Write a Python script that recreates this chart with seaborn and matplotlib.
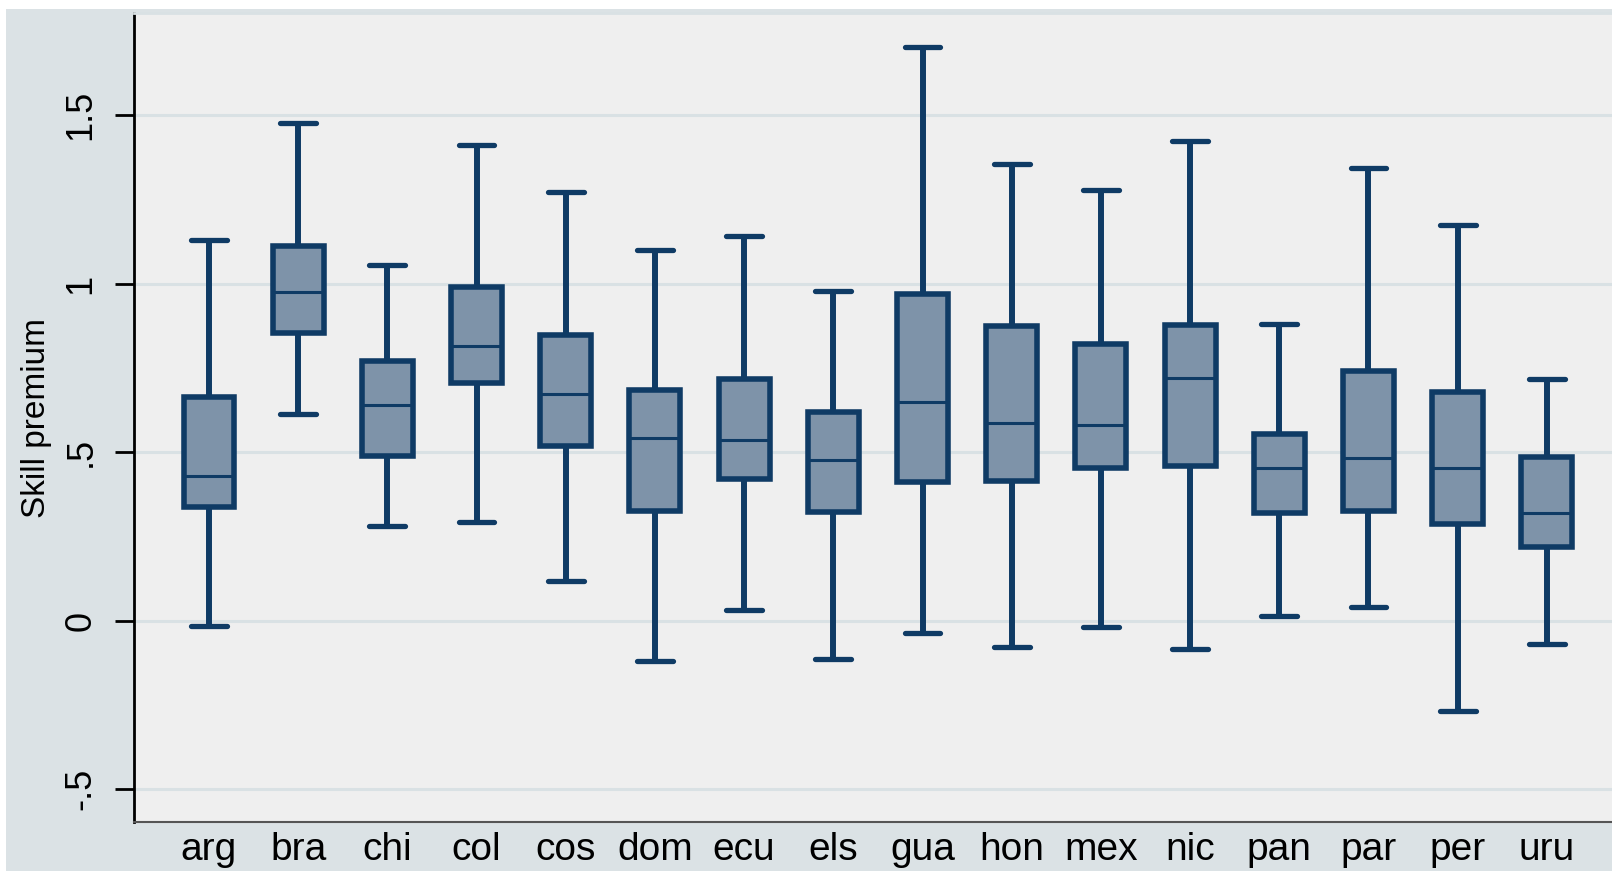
import numpy as np
import pandas as pd
import matplotlib
matplotlib.use("Agg")
import matplotlib.pyplot as plt
from matplotlib.patches import Rectangle
import seaborn as sns

countries = ["arg", "bra", "chi", "col", "cos", "dom", "ecu", "els",
             "gua", "hon", "mex", "nic", "pan", "par", "per", "uru"]
whisker_low = [-0.015, 0.612, 0.280, 0.292, 0.119, -0.119, 0.033, -0.113,
               -0.037, -0.079, -0.018, -0.085, 0.015, 0.040, -0.268, -0.070]
q1 = [0.338, 0.855, 0.490, 0.706, 0.518, 0.326, 0.420, 0.323,
      0.411, 0.414, 0.454, 0.460, 0.320, 0.326, 0.286, 0.219]
median = [0.429, 0.974, 0.639, 0.816, 0.673, 0.542, 0.536, 0.478,
          0.648, 0.588, 0.581, 0.721, 0.454, 0.484, 0.454, 0.320]
q3 = [0.664, 1.111, 0.770, 0.989, 0.849, 0.685, 0.718, 0.618,
      0.968, 0.874, 0.822, 0.877, 0.554, 0.740, 0.679, 0.487]
whisker_high = [1.129, 1.476, 1.056, 1.412, 1.272, 1.099, 1.142, 0.977,
                1.702, 1.355, 1.279, 1.422, 0.880, 1.342, 1.175, 0.718]

ytick_vals = [-0.5, 0, 0.5, 1, 1.5]
ytick_labels = ["-.5", "0", ".5", "1", "1.5"]

# five points per country reproduce exactly the five box statistics
rows = []
for c, lo, a, m, b, hi in zip(countries, whisker_low, q1, median, q3, whisker_high):
    for v in (lo, a, m, b, hi):
        rows.append((c, v))
df = pd.DataFrame(rows, columns=["country", "premium"])

OUTER = "#dbe2e5"
PLOTBG = "#efefef"
GRID = "#d9e1e4"
EDGE = "#0f3b65"
FILL = "#7e93a9"

plt.rcParams["font.family"] = ["Liberation Sans", "DejaVu Sans"]

W, H = 1612, 871
fig = plt.figure(figsize=(W / 100, H / 100), dpi=100, facecolor="white")
fig.patches.append(Rectangle((6 / W, 0), 1, (H - 9) / H, transform=fig.transFigure,
                             facecolor=OUTER, edgecolor="none", zorder=-10))

ax = fig.add_axes([134 / W, (H - 822) / H, 1 - 134 / W, (822 - 13) / H])
ax.set_facecolor(PLOTBG)

sns.boxplot(data=df, x="country", y="premium", order=countries, ax=ax,
            whis=np.inf, width=0.57, color=FILL, saturation=1,
            linecolor=EDGE, linewidth=4.0, fliersize=0, capwidths=0.40,
            medianprops=dict(linewidth=2.2, color=EDGE),
            whiskerprops=dict(linewidth=4.3, color=EDGE),
            capprops=dict(linewidth=3.8, color=EDGE, solid_capstyle="round"))

ax.set_xlim(-0.84, 15.73)
ax.set_ylim(-0.597, 1.803)
ax.set_yticks(ytick_vals)
ax.set_yticklabels(ytick_labels, rotation=90, va="center", fontsize=26)
ax.yaxis.grid(True, color=GRID, linewidth=2.2)
ax.xaxis.grid(False)
ax.set_axisbelow(True)

ax.tick_params(axis="y", length=13.7, width=2, pad=12, color="black", labelcolor="black")
ax.tick_params(axis="x", length=0, pad=7.5, labelsize=28, labelcolor="black")

ax.set_xlabel("")
ax.set_ylabel("Skill premium", fontsize=24, color="black")
ax.yaxis.set_label_coords(-0.0555, 0.5)

ax.spines["right"].set_visible(False)
ax.spines["top"].set_color(GRID)
ax.spines["top"].set_linewidth(2)
ax.spines["left"].set_color("black")
ax.spines["left"].set_linewidth(2)
ax.spines["bottom"].set_color("#555555")
ax.spines["bottom"].set_linewidth(1.5)

fig.savefig("out.png", dpi=100, facecolor=fig.get_facecolor())
